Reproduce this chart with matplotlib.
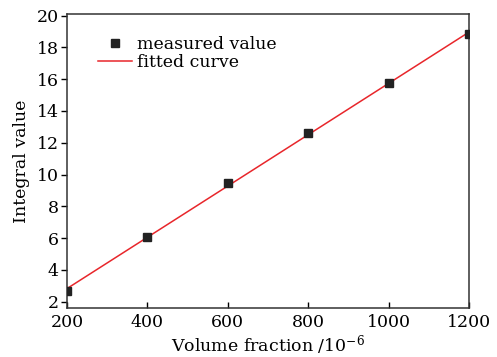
import numpy as np
import matplotlib.pyplot as plt

plt.rcParams['font.family'] = ['DejaVu Serif']
plt.rcParams['mathtext.fontset'] = 'dejavuserif'

volume_fraction = [200, 400, 600, 800, 1000, 1200]
integral_value = [2.67, 6.06, 9.45, 12.6, 15.75, 18.82]

# linear fit of measured points
k, b = np.polyfit(volume_fraction, integral_value, 1)
x_fit = np.array([200, 1200])
y_fit = k * x_fit + b

fig = plt.figure(figsize=(4.97, 3.57), dpi=100)
ax = fig.add_axes([67 / 497, 1 - 308 / 357, (469 - 67) / 497, (308 - 14) / 357])

ax.plot(volume_fraction, integral_value, 's', color='#222222', markersize=5.5, label='measured value', zorder=3)
ax.plot(x_fit, y_fit, '-', color='#e8262b', linewidth=1.1, label='fitted curve', zorder=2)

ax.set_xlim(200, 1200)
ax.set_ylim(1.6, 20.1)
ax.set_xticks([200, 400, 600, 800, 1000, 1200])
ax.set_yticks([2, 4, 6, 8, 10, 12, 14, 16, 18, 20])
ax.tick_params(axis='x', direction='in', length=4, width=1, labelsize=12.5, pad=4)
ax.tick_params(axis='y', direction='out', length=4, width=1, labelsize=12.5, pad=2)
for s in ax.spines.values():
    s.set_linewidth(1.1)
    s.set_color('#333333')

ax.set_xlabel('Volume fraction /10$^{\\mathregular{-6}}$', fontsize=12.5, labelpad=2)
ax.set_ylabel('Integral value', fontsize=12.5, labelpad=5)

ax.legend(loc='upper left', bbox_to_anchor=(0.05, 0.96), frameon=False, fontsize=12.5,
          handlelength=2.0, handletextpad=0.3, labelspacing=0.05, borderaxespad=0.2)

fig.savefig('out.png', dpi=100)
